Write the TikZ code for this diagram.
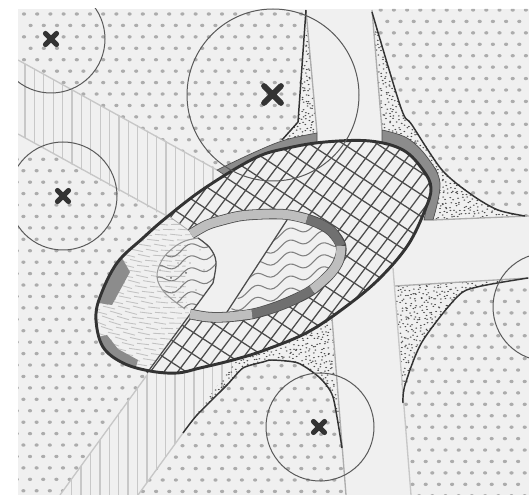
\documentclass[tikz,border=0pt]{standalone}
\usetikzlibrary{calc}
\definecolor{panel}{HTML}{F0F0F0}
\definecolor{dotc}{HTML}{ACACAC}
\definecolor{hatchc}{HTML}{C8C8C8}
\definecolor{darkc}{HTML}{333333}
\definecolor{ringl}{HTML}{BEBEBE}
\definecolor{ringd}{HTML}{707070}
\definecolor{arcc}{HTML}{8C8C8C}
\newcommand\dotfield[4]{% x0 y0 imax jmax
  \foreach \j in {0,...,#4} {\foreach \i in {0,...,#3} {
    \fill[dotc] ({#1+\i*13.2+6.6*mod(\j,2)},{#2+\j*11.43}) ellipse (2.1 and 1.7);}}}
\newcommand\stipple[4]{%
  \pgfmathsetseed{#1}%
  \pgfmathtruncatemacro\nx{(#2-#1)/4}\pgfmathtruncatemacro\ny{(#4-#3)/4}%
  \foreach \i in {0,...,\nx} {\foreach \j in {0,...,\ny} {
    \fill[black!70] ({#1+\i*4+3.8*rnd},{#3+\j*4+3.8*rnd}) ellipse (1 and 0.65);}}}
\newcommand\outlinepath{plot[smooth cycle,tension=0.6] coordinates {(96,320)(100,297)(117,263)(143,238)(167,217)(205,188)(255,158)(288,148)(325,142)(370,141)(403,150)(423,170)(431,188)(425,210)(408,245)(380,278)(348,305)(308,332)(265,350)(233,360)(200,368)(177,373)(150,371)(123,363)(103,347)}}
\newcommand\waves{\foreach \r in {0,...,24} {
  \draw[color=black!50,line width=0.8pt] plot[smooth,samples=70,domain=140:360] (\x,{190+\r*12-0.28*(\x-140)+4*sin(\x*10.9)});}}
\tikzset{
  roadedge/.style={draw=black!32,line width=1pt},
  darkcurve/.style={draw=darkc,line width=1.1pt,line join=round},
  ringstroke/.style={line width=6.7pt,line cap=butt},
  bigcircle/.style={draw=black!65,line width=0.75pt},
  crossmark/.style={draw=darkc,line width=3.9pt,line cap=round},
  thinline/.style={draw=black!70,line width=0.95pt},
}
\begin{document}
\begin{tikzpicture}[x=0.75pt,y=-0.75pt]
\useasboundingbox (0,0) rectangle (529,495);
\begin{scope}
\clip (18,9) rectangle (529,495);
\fill[panel] (18,9) rectangle (529,495);
% dotted fields
\begin{scope}\clip (18,9) -- (306,9) -- (298,122) -- (282,140) -- (217,170) -- (18,60) -- cycle; \dotfield{24}{14}{22}{16}\end{scope}
\begin{scope}\clip (18,134) -- (167,216) -- (100,300) -- (147,375) -- (60,495) -- (18,495) -- cycle; \dotfield{16.8}{159.3}{11}{30}\end{scope}
\begin{scope}\clip (138,495) -- (183,433) -- (197,415) -- (227,385) -- (243,368) -- (263,362) -- (272,360) -- (298,363) -- (320,378) -- (333,397) -- (342,448) -- (346,495) -- cycle; \dotfield{123.1}{365.7}{18}{12}\end{scope}
\begin{scope}\clip (403,403) -- (405,385) -- (422,342) -- (457,297) -- (477,287) -- (529,278) -- (529,495) -- (411,495) -- cycle; \dotfield{399.3}{278.6}{11}{19}\end{scope}
\begin{scope}\clip (372,9) -- (401,108) -- (412,125) -- (442,170) -- (472,195) -- (498,210) -- (525,216) -- (529,216) -- (529,9) -- cycle; \dotfield{380.7}{10}{12}{18}\end{scope}
% diagonal bands
\begin{scope}\clip (18,60) -- (225,173) -- (170,220) -- (18,134) -- cycle;
  \foreach \k in {0,...,22} \draw[hatchc,line width=1pt] ({25+\k*9.4},40) -- ({25+\k*9.4},240);
\end{scope}
\draw[roadedge,draw=black!22] (18,60) -- (217,170);
\draw[roadedge,draw=black!22] (18,134) -- (167,216);
\begin{scope}\clip (60,495) -- (150,370) -- (240,360) -- (227,385) -- (197,415) -- (183,433) -- (138,495) -- cycle;
  \foreach \k in {0,...,17} \draw[hatchc,line width=1pt] ({71.7+\k*9.4},350) -- ({71.7+\k*9.4},495);
\end{scope}
\draw[roadedge,draw=black!22] (60,495) -- (147,375);
\draw[roadedge,draw=black!22] (138,495) -- (183,433);
% stipple zones
\begin{scope}\clip (306,10) -- (298,122) -- (282,140) -- (318,140) -- cycle; \stipple{280}{320}{10}{142}\end{scope}
\begin{scope}\clip (372,10) -- (401,108) -- (412,125) -- (442,170) -- (472,195) -- (498,210) -- (525,216) -- (433,220) -- (382,130) -- cycle; \stipple{372}{445}{10}{172}\stipple{425}{527}{168}{222}\end{scope}
\begin{scope}\clip (395,286) -- (529,278) -- (477,287) -- (457,297) -- (422,342) -- (405,385) -- (403,403) -- cycle; \stipple{395}{529}{278}{405}\end{scope}
\begin{scope}\clip (183,433) -- (225,375) -- (250,345) -- (332,318) -- (342,448) -- (333,397) -- (320,378) -- (298,363) -- (272,360) -- (263,362) -- (243,368) -- (227,385) -- (197,415) -- cycle; \stipple{183}{345}{318}{435}\end{scope}
% road edges
\draw[roadedge] (306,10) -- (317,133);
\draw[roadedge] (332,318) -- (346,495);
\draw[roadedge] (372,10) -- (382,130);
\draw[roadedge,draw=black!22] (393,268) -- (411,495);
\draw[roadedge] (433,220) -- (529,216);
\draw[roadedge] (395,286) -- (529,278);
% dark curves
\draw[darkcurve] (306,10) -- (298,122) -- (282,140);
\draw[darkcurve] plot[smooth,tension=0.5] coordinates {(372,12)(401,108)(412,125)(442,170)(472,195)(498,210)(525,216)};
\draw[darkcurve] plot[smooth,tension=0.5] coordinates {(403,403)(405,385)(422,342)(457,297)(477,287)(528,278)};
\draw[darkcurve] plot[smooth,tension=0.4] coordinates {(183,433)(197,415)(227,385)(243,368)(263,362)(272,360)(298,363)(320,378)(333,397)(342,448)};
% grey arcs outside the outline
\filldraw[fill=arcc,draw=black!70,line width=0.5pt] plot[smooth,tension=0.6] coordinates {(217,170)(255,152)(285,140)(317,133)} -- (317,146) -- plot[smooth,tension=0.6] coordinates {(288,150)(255,160)(226,176)} -- cycle;
\filldraw[fill=arcc,draw=black!70,line width=0.5pt] plot[smooth,tension=0.6] coordinates {(382,130)(407,138)(427,157)(440,183)(433,220)} -- (424,220) -- plot[smooth,tension=0.6] coordinates {(431,188)(423,170)(403,150)(382,142)} -- cycle;
% main oval
\fill[panel] \outlinepath;
\begin{scope}\clip \outlinepath;
  \foreach \k in {-24,...,24} \draw[thinline] ({277+\k*13.7-200},524) -- ({277+\k*13.7+200},-8);
  \foreach \k in {-14,...,14} \draw[thinline] (65,{269+\k*22-130}) -- (465,{269+\k*22+130});
  % fan of short dashes
  \fill[panel] (170,217) -- (198,237) -- (216,262) -- (213,283) -- (187,318) -- (147,375) -- (80,380) -- (80,220) -- cycle;
  \begin{scope}\clip (170,217) -- (198,237) -- (216,262) -- (213,283) -- (187,318) -- (147,375) -- (80,380) -- (80,220) -- cycle;
  \foreach \r in {0,...,32} {\foreach \c in {0,...,9} {
    \pgfmathsetmacro\dx{88+\c*15+mod(\r*7,15)}
    \pgfmathsetmacro\dy{214+\r*5.2}
    \pgfmathsetmacro\slp{0.26*(190-\dx)/70+0.06*sin(\dx*17+\dy*23)}
    \draw[black!24,line width=0.65pt] ({\dx-6},{\dy-6*\slp}) -- ({\dx+6},{\dy+6*\slp});
  }}
  \end{scope}
  \draw[black!35,line width=0.6pt] (170,217) -- (198,237);
  % grey arcs inside the outline
  \fill[arcc] (122,258) -- (130,272) -- (112,305) -- (92,302) -- (105,275) -- cycle;
  \fill[arcc] (107,335) -- (118,349) -- (138,360) -- (135,370) -- (117,368) -- (96,345) -- (98,337) -- cycle;
\end{scope}
% inner oval interior
\fill[panel] plot[smooth cycle,tension=0.6] coordinates {(191,234)(207,225)(223,220)(240,216)(257,214.5)(275,214)(290,215)(307,219)(322,225)(333,233)(341,246)(339,260)(330,274)(312,290)(293,300)(273,308)(252,314)(227,317)(208,317)(190,314)(186,290)(186,260)};
% waved parts
\begin{scope}
  \clip (287,218) -- (307,219) -- (322,225) -- (333,233) -- (341,246) -- (339,260) -- (330,274) -- (312,290) -- (293,300) -- (273,308) -- (227,316) -- cycle;
  \waves
\end{scope}
\begin{scope}
  \clip plot[smooth,tension=0.6] coordinates {(198,238)(210,248)(216,262)(213,283)} -- (190,314) -- plot[smooth,tension=0.6] coordinates {(183,307)(165,293)(157,277)(162,260)(173,248)(185,241)} -- cycle;
  \waves
  \foreach \a/\b/\c in {171/278/1,186/273/1,183/282/0.6,178/263/0.6,190/263/0.6,204/270/0.6,174/295/0.6,196/290/0.6,160/270/0.5,200/250/0.5}
    \fill[black!60] (\a,\b) circle (\c);
\end{scope}
\draw[black!40,line width=0.8pt] plot[smooth,tension=0.6] coordinates {(185,309)(165,293)(157,277)(162,260)(173,248)(185,241)(198,238)};
\draw[thinline] plot[smooth,tension=0.6] coordinates {(198,238)(210,248)(216,262)(213,283)};
\draw[thinline] (213,283) -- (147,373);
\draw[thinline] (287,220) -- (227,312);
% ring
\draw[black!70,line width=7.9pt] plot[smooth,tension=0.6] coordinates {(191,234)(207,225)(223,220)(240,216)(257,214.5)(275,214)(290,215)(307,219)(322,225)(333,233)(341,246)(339,260)(330,274)(312,290)(293,300)(273,308)(252,314)(227,317)(208,317)(190,314)};
\draw[ringstroke,ringl] plot[smooth,tension=0.6] coordinates {(191,234)(207,225)(223,220)(240,216)(257,214.5)(275,214)(290,215)(307,219)};
\draw[ringstroke,ringd] plot[smooth,tension=0.6] coordinates {(307,219)(322,225)(333,233)(341,246)};
\draw[ringstroke,ringl] plot[smooth,tension=0.6] coordinates {(341,246)(339,260)(330,274)(312,290)};
\draw[ringstroke,ringd] plot[smooth,tension=0.6] coordinates {(312,290)(293,300)(273,308)(252,314)};
\draw[ringstroke,ringl] plot[smooth,tension=0.6] coordinates {(252,314)(227,317)(208,317)(190,314)};
% outline
\draw[darkc,line width=2.2pt] \outlinepath;
% circles
\draw[bigcircle] (51,39) circle (54);
\draw[bigcircle] (273,95) circle (86);
\draw[bigcircle] (63,196) circle (54);
\draw[bigcircle] (320,427) circle (54);
\draw[bigcircle] (547,307) circle (54);
% crosses
\draw[crossmark] (45.5,33.5) -- (56.5,44.5) (45.5,44.5) -- (56.5,33.5);
\draw[crossmark] (57.5,190.5) -- (68.5,201.5) (57.5,201.5) -- (68.5,190.5);
\draw[crossmark] (313.5,421.5) -- (324.5,432.5) (313.5,432.5) -- (324.5,421.5);
\draw[crossmark,line width=4.3pt] (264,86) -- (281,103) (264,103) -- (281,86);
\end{scope}
\end{tikzpicture}
\end{document}
